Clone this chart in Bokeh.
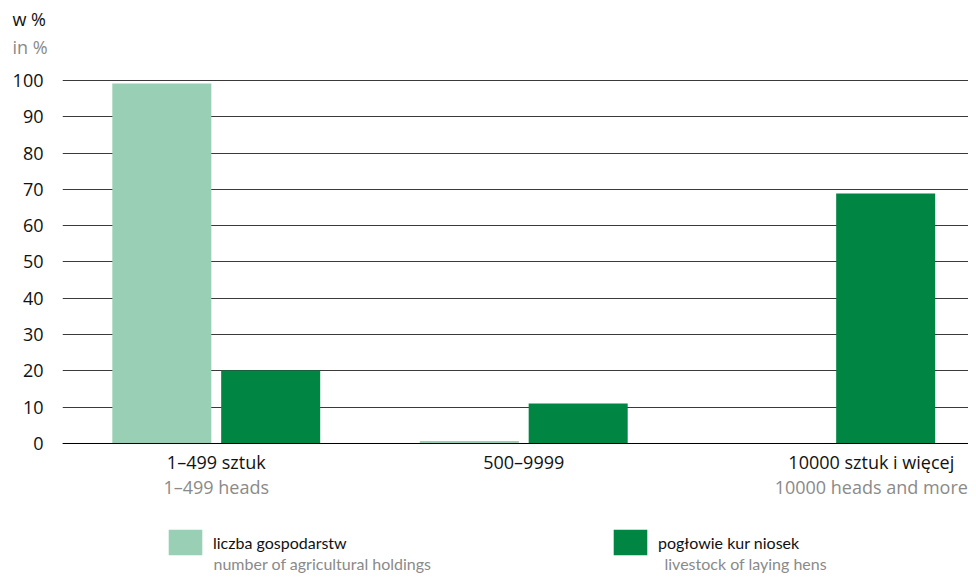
from bokeh.plotting import figure
from bokeh.models import Range1d, Span, Label, Legend, LegendItem, FixedTicker, ColumnDataSource, Title
from bokeh.transform import dodge
from bokeh.embed import file_html
from bokeh.resources import INLINE

categories_pl = ["1–499 sztuk", "500–9999", "10000 sztuk i więcej"]
categories_en = ["1–499 heads", "", "10000 heads and more"]
holdings = [99.2, 0.7, 0.1]
hens = [20.1, 11.0, 68.9]
series_pl = ["liczba gospodarstw", "pogłowie kur niosek"]
series_en = ["number of agricultural holdings", "livestock of laying hens"]
y_ticks = list(range(0, 101, 10))

LIGHT = "#99CFB4"
DARK = "#008542"
GRAY = "#8a8a8a"
BLACK = "#111111"
FONT = "Open Sans"
NARROW = "Lato"

src = ColumnDataSource(dict(x=list(range(len(categories_pl))), holdings=holdings, hens=hens))

p = figure(width=968, height=574, output_backend="svg", toolbar_location=None,
           x_axis_type=None,
           x_range=Range1d(-0.5, 2.4463), y_range=Range1d(-36.09, 106.06),
           min_border_left=62, min_border_right=0, min_border_top=58, min_border_bottom=0)
p.outline_line_color = None
p.xgrid.visible = False
p.yaxis.axis_line_color = None
p.yaxis.major_tick_line_color = None
p.yaxis.minor_tick_line_color = None
p.yaxis.major_label_standoff = 13
p.yaxis.major_label_text_font = FONT
p.yaxis.major_label_text_font_size = "18px"
p.yaxis.major_label_text_color = BLACK
p.yaxis.ticker = FixedTicker(ticks=y_ticks)
p.ygrid.ticker = FixedTicker(ticks=y_ticks)
p.ygrid.grid_line_color = "#3a3a3a"
p.ygrid.grid_line_width = 1

# unit titles above the plot
p.add_layout(Title(text="in %", align="left", offset=-50, standoff=0, text_font=FONT,
                   text_font_size="18px", text_font_style="normal", text_color=GRAY), "above")
p.add_layout(Title(text="w %", align="left", offset=-50, standoff=3, text_font=FONT,
                   text_font_size="18px", text_font_style="normal", text_color=BLACK), "above")

r1 = p.vbar(x=dodge("x", -0.177, range=p.x_range), top="holdings", width=0.322, source=src,
            fill_color=LIGHT, line_color=None)
r2 = p.vbar(x=dodge("x", 0.177, range=p.x_range), top="hens", width=0.322, source=src,
            fill_color=DARK, line_color=None)

p.add_layout(Span(location=0, dimension="width", line_color="#000000", line_width=1))

x_offsets = [0, 0, 40]
for i, (pl, en) in enumerate(zip(categories_pl, categories_en)):
    p.add_layout(Label(x=i, y=0, y_offset=-19, text=pl, text_align="center",
                       text_baseline="middle", text_font=FONT, text_font_size="18px",
                       text_color=BLACK, x_offset=x_offsets[i]))
    if en:
        p.add_layout(Label(x=i, y=0, y_offset=-44, text=en, text_align="center",
                           text_baseline="middle", text_font=FONT, text_font_size="18px",
                           text_color=GRAY, x_offset=x_offsets[i]))

legend = Legend(items=[LegendItem(label=series_pl[0], renderers=[r1]),
                       LegendItem(label=series_pl[1], renderers=[r2])],
                location=(102, 16), orientation="horizontal",
                glyph_width=42, glyph_height=32, label_standoff=7, label_width=396,
                spacing=0, padding=0, margin=0, border_line_color=None,
                background_fill_alpha=0, label_text_font=NARROW, label_text_font_size="16px",
                label_text_color=BLACK, label_height=32)
p.add_layout(legend)

for xs, en in zip([151, 602], series_en):
    p.add_layout(Label(x=xs, y=11, x_units="screen", y_units="screen", text=en,
                       text_baseline="middle", text_font=NARROW, text_font_size="16px",
                       text_color=GRAY))

open("out.html", "w").write(file_html(p, INLINE))
